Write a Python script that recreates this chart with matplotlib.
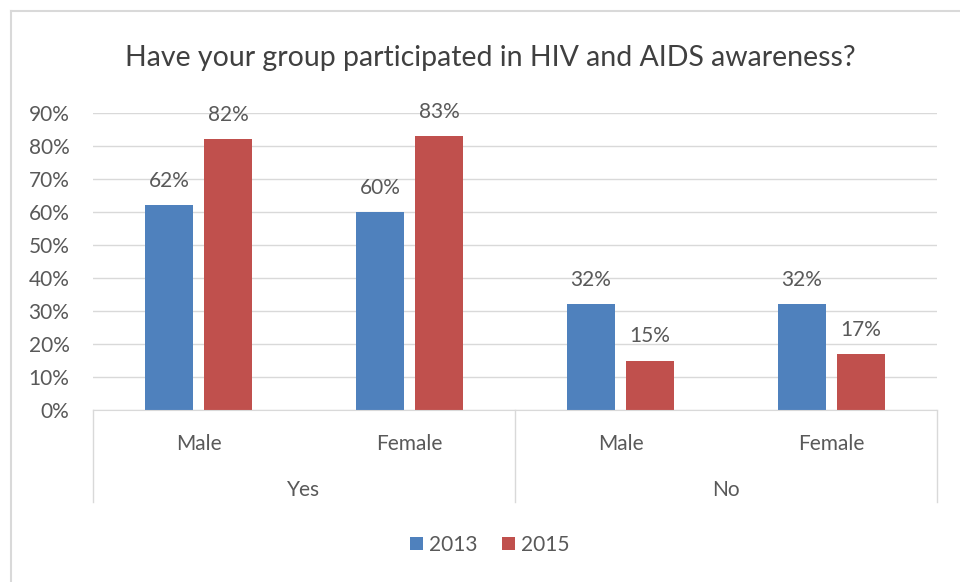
import matplotlib.pyplot as plt
import numpy as np
from matplotlib.lines import Line2D

plt.rcParams['font.family'] = ['Lato', 'DejaVu Sans']

sub_labels = ['Male', 'Female', 'Male', 'Female']
groups = ['Yes', 'No']
y2013 = [62, 60, 32, 32]
y2015 = [82, 83, 15, 17]

blue = '#4F81BD'
red = '#C0504D'
txt = '#595959'
grid = '#D9D9D9'

fig = plt.figure(figsize=(9.6, 5.82), dpi=100)
ax = fig.add_axes([93/960, 172/582, 844/960, 297/582])

x = np.arange(len(sub_labels))
w = 0.225
b1 = ax.bar(x - 0.14, np.array(y2013) / 100, w, color=blue, label='2013')
b2 = ax.bar(x + 0.14, np.array(y2015) / 100, w, color=red, label='2015')

for bars, vals in ((b1, y2013), (b2, y2015)):
    for r, v in zip(bars, vals):
        ax.annotate(f'{v}%', (r.get_x() + r.get_width() / 2, r.get_height()),
                    xytext=(0, 17.5), textcoords='offset points', ha='center',
                    va='center', fontsize=15, color=txt)

ax.set_xlim(-0.5, 3.5)
ax.set_ylim(0, 0.9)
ax.set_yticks(np.arange(0, 0.91, 0.1))
ax.set_yticklabels([f'{int(round(t * 100))}%' for t in np.arange(0, 0.91, 0.1)])
ax.yaxis.grid(True, color=grid, linewidth=1)
ax.set_axisbelow(True)
for s in ['top', 'right', 'left']:
    ax.spines[s].set_visible(False)
ax.spines['bottom'].set_color(grid)
ax.tick_params(axis='y', length=0, labelsize=15, labelcolor=txt, pad=17)
ax.set_xticks(x)
ax.set_xticklabels(sub_labels)
ax.tick_params(axis='x', length=0, labelsize=15, labelcolor=txt, pad=17)

# multi-level category separators
trans = ax.get_xaxis_transform()
for xv in [-0.5, 1.5, 3.5]:
    ax.plot([xv, xv], [0, -92 / 297], color=grid, lw=1, transform=trans, clip_on=False)
for i, g in enumerate(groups):
    ax.text(0.5 + 2 * i, -80 / 297, g, transform=trans, ha='center', va='center',
            fontsize=15, color=txt)

fig.text(490 / 960, 1 - 58 / 582, 'Have your group participated in HIV and AIDS awareness?',
         fontsize=20.5, color='#404040', ha='center', va='center')

ax.legend(loc='center', bbox_to_anchor=(490 / 960, 37 / 582), bbox_transform=fig.transFigure,
          ncol=2, frameon=False, fontsize=15, handlelength=0.6, handleheight=0.6,
          handletextpad=0.3, columnspacing=1.2, labelcolor=txt)

# chart area border (only top and left visible)
fig.add_artist(Line2D([11 / 960, 1], [1 - 11 / 582, 1 - 11 / 582],
                      transform=fig.transFigure, color=grid, lw=1.5))
fig.add_artist(Line2D([11 / 960, 11 / 960], [0, 1 - 11 / 582],
                      transform=fig.transFigure, color=grid, lw=1.5))

fig.savefig('out.png', dpi=100)
